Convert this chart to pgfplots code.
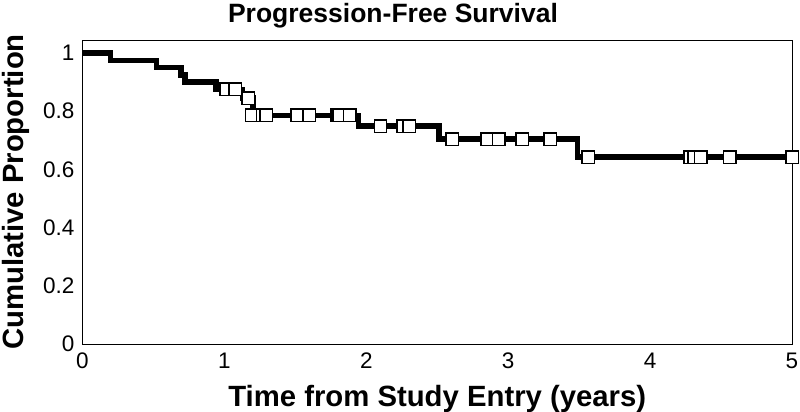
\documentclass[border=0pt]{standalone}
\usepackage{pgfplots}
\pgfplotsset{compat=1.18}
\usepackage{fontspec}
\setmainfont{Liberation Sans}
\begin{document}
\begin{tikzpicture}[x=1pt,y=1pt]
\path[use as bounding box] (-82.5,-68) rectangle (717.5,344);
\begin{axis}[
  scale only axis, width=709.5pt, height=304pt,
  at={(0,0)}, anchor=south west,
  xmin=0, xmax=5, ymin=0, ymax=1.0447,
  xtick={0,1,2,3,4,5}, ytick={0,0.2,0.4,0.6,0.8,1},
  major tick length=0pt,
  axis line style={line width=0.9pt, black},
  /pgf/number format/assume math mode=true,
  tick label style={font=\fontsize{22.5}{22.5}\selectfont, inner sep=0pt},
  xticklabel style={anchor=north, yshift=-8.5pt},
  yticklabel style={anchor=east, xshift=-8pt},
  clip=false,
  xlabel={Time from Study Entry (years)},
  ylabel={Cumulative Proportion},
  every axis x label/.style={at={(axis description cs:0.5,0)}, yshift=-62.7pt, anchor=base, font=\fontsize{29.3}{30}\selectfont\bfseries},
  every axis y label/.style={at={(axis description cs:0,0.5)}, xshift=-58.5pt, rotate=90, anchor=base, font=\fontsize{29.3}{30}\selectfont\bfseries},
]
\addplot[const plot, line width=5.5pt, black] coordinates {
(0,1) (0.199,0.975) (0.523,0.95) (0.694,0.925) (0.722,0.9) (0.941,0.875)
(1.126,0.845) (1.2,0.786) (1.944,0.749) (2.514,0.704) (3.487,0.642) (5.0,0.642)
};
\addplot[only marks, mark=square*, mark size=6.2pt, mark options={fill=white, draw=black, line width=1.4pt}] coordinates {
(1.012,0.875) (1.075,0.875) (1.168,0.845)
(1.192,0.786) (1.272,0.786) (1.295,0.786) (1.512,0.786) (1.598,0.786)
(1.795,0.786) (1.81,0.786) (1.885,0.786)
(2.10,0.749) (2.261,0.749) (2.301,0.749)
(2.604,0.704) (2.853,0.704) (2.935,0.704) (3.10,0.704) (3.295,0.704)
(3.565,0.642) (4.282,0.642) (4.312,0.642) (4.357,0.642) (4.561,0.642) (5.0,0.642)
};
\end{axis}
\node[anchor=base, font=\fontsize{26.5}{27}\selectfont\bfseries] at (310.5,321) {Progression-Free Survival};
\end{tikzpicture}
\end{document}
